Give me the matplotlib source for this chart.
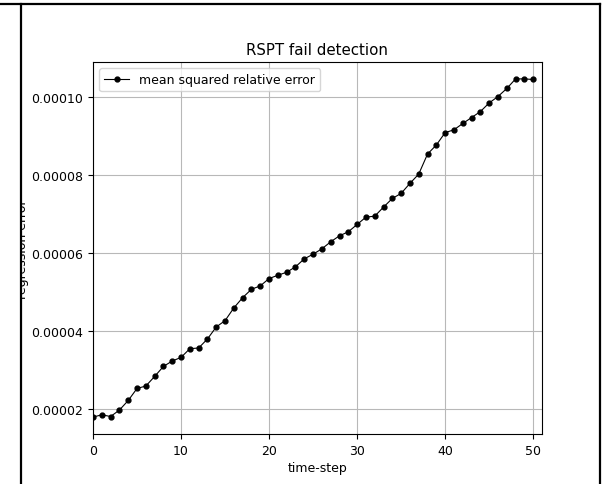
import numpy as np
import matplotlib
matplotlib.use("Agg")
import matplotlib.pyplot as plt
from matplotlib.lines import Line2D
from matplotlib.patches import Rectangle

# ---- data ----
TIME_STEPS = list(range(51))
MSRE = [1.787, 1.846, 1.802, 1.967, 2.213, 2.522, 2.584, 2.830, 3.087, 3.226,
        3.319, 3.542, 3.560, 3.792, 4.100, 4.262, 4.589, 4.853, 5.067, 5.154,
        5.342, 5.427, 5.504, 5.643, 5.848, 5.967, 6.105, 6.285, 6.440, 6.542,
        6.730, 6.918, 6.943, 7.175, 7.398, 7.527, 7.784, 8.023, 8.537, 8.769,
        9.087, 9.159, 9.321, 9.473, 9.627, 9.848, 10.013, 10.219, 10.465, 10.465,
        10.450]
MSRE = [v * 1e-5 for v in MSRE]

TITLE = "RSPT fail detection"
XLABEL = "time-step"
YLABEL = "regression error"
LEGEND_LABEL = "mean squared relative error"

FS = 9

fig = plt.figure(figsize=(6.06, 4.85), dpi=100)
ax = fig.add_axes([93 / 606, 50 / 485, 449 / 606, 372 / 485])

ax.plot(TIME_STEPS, MSRE, 'k.-', linewidth=0.8, markersize=7, label=LEGEND_LABEL)
ax.set_xlim(0, 51)
ax.grid(True, color='#b8b8b8', linewidth=0.8)

ax.set_title(TITLE, fontsize=10.8)
ax.set_xlabel(XLABEL, fontsize=FS, labelpad=3)
ax.set_ylabel(YLABEL, fontsize=FS)
ax.yaxis.set_label_coords((29 - 93) / 449, 0.5)
ax.tick_params(labelsize=FS, width=0.8, length=3.5)
for s in ax.spines.values():
    s.set_linewidth(0.8)
ax.legend(loc='upper left', fontsize=FS)

# screenshot frame: white strip on the left hides part of the y label
fig.patches.append(Rectangle((0, 0), 21 / 606, 1, transform=fig.transFigure,
                             facecolor='white', edgecolor='none', zorder=10))
frame_kw = dict(color='black', linewidth=1.6, transform=fig.transFigure, zorder=11)
fig.lines.append(Line2D([0, 600 / 606], [1 - 5 / 485] * 2, **frame_kw))
fig.lines.append(Line2D([21 / 606] * 2, [0, 1 - 5 / 485], **frame_kw))
fig.lines.append(Line2D([600 / 606] * 2, [0, 1 - 5 / 485], **frame_kw))

plt.savefig("out.png", dpi=100)
plt.close()
